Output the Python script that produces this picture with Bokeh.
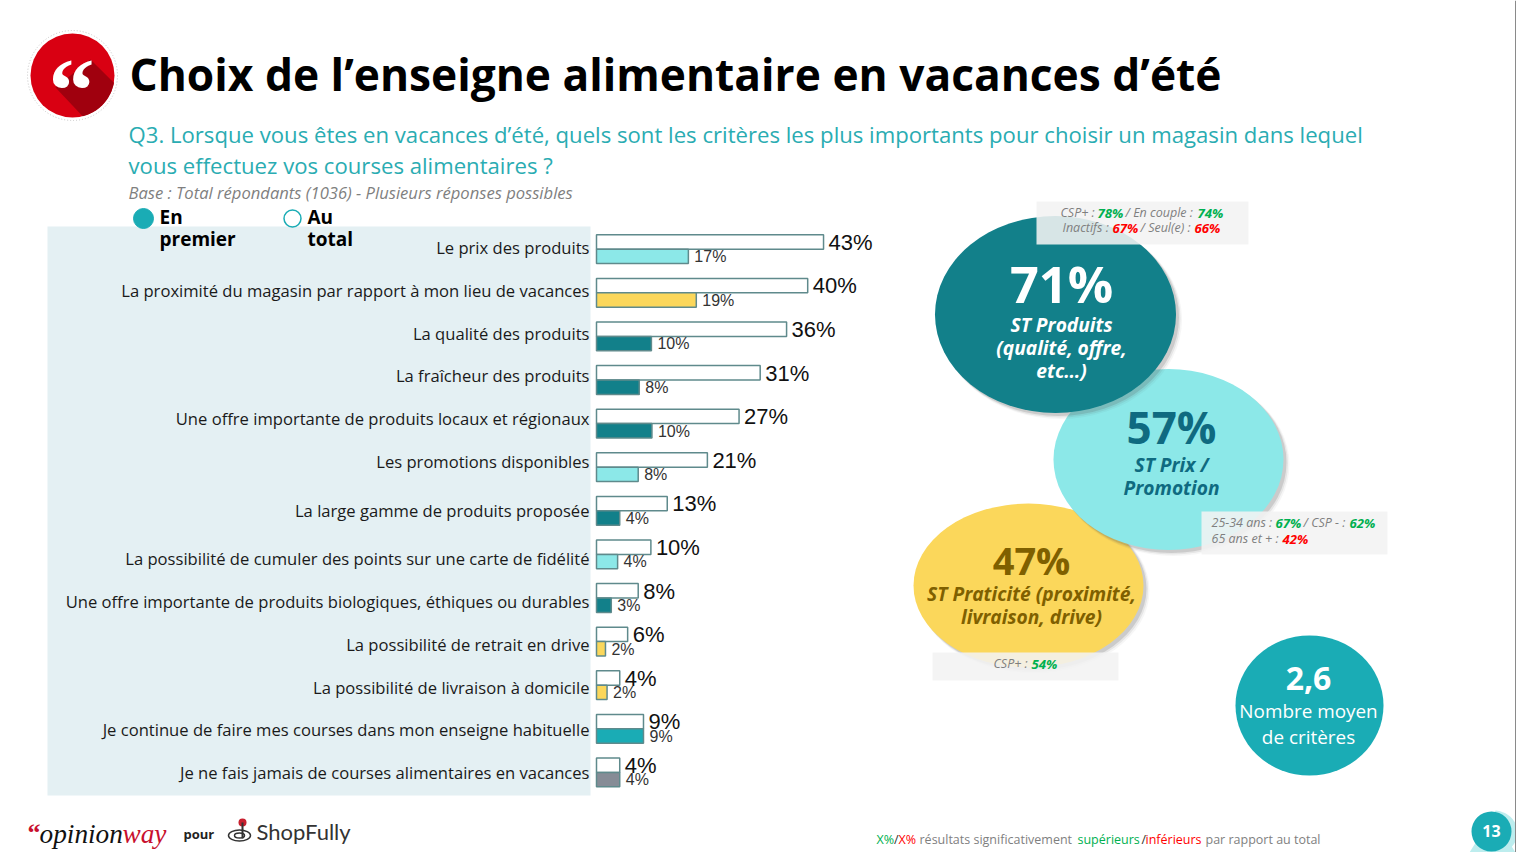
import numpy as np
from bokeh.plotting import figure
from bokeh.models import Range1d
from bokeh.core.properties import value
from bokeh.embed import file_html
from bokeh.resources import INLINE

# ---------- data ----------
categories = [
    "Le prix des produits",
    "La proximité du magasin par rapport à mon lieu de vacances",
    "La qualité des produits",
    "La fraîcheur des produits",
    "Une offre importante de produits locaux et régionaux",
    "Les promotions disponibles",
    "La large gamme de produits proposée",
    "La possibilité de cumuler des points sur une carte de fidélité",
    "Une offre importante de produits biologiques, éthiques ou durables",
    "La possibilité de retrait en drive",
    "La possibilité de livraison à domicile",
    "Je continue de faire mes courses dans mon enseigne habituelle",
    "Je ne fais jamais de courses alimentaires en vacances",
]
au_total = [43, 40, 36, 31, 27, 21, 13.4, 10.3, 7.9, 5.9, 4.4, 8.9, 4.4]
en_premier = [17.4, 18.9, 10.4, 8.1, 10.5, 7.9, 4.4, 4.0, 2.8, 1.7, 2.0, 8.9, 4.4]
au_total_labels = ["43%", "40%", "36%", "31%", "27%", "21%", "13%", "10%", "8%", "6%", "4%", "9%", "4%"]
en_premier_labels = ["17%", "19%", "10%", "8%", "10%", "8%", "4%", "4%", "3%", "2%", "2%", "9%", "4%"]
groups = ["prix", "praticite", "produits", "produits", "produits", "prix", "produits",
          "prix", "produits", "praticite", "praticite", "habitude", "jamais"]

bubble_values = ["71%", "57%", "47%", "2,6"]
TEAL, CYAN, YELLOW, MID, GREY = "#12808A", "#8CE8E8", "#FBD75B", "#1AACB5", "#868C96"
group_colors = {"prix": CYAN, "praticite": YELLOW, "produits": TEAL, "habitude": MID, "jamais": GREY}

# ---------- figure: main scales are page pixels, bars use their own scales ----------
W, H = 1516, 852
p = figure(width=W, height=H, output_backend="svg", toolbar_location=None,
           x_range=Range1d(0, W), y_range=Range1d(H, 0), min_border=0)
p.axis.visible = False
p.grid.visible = False
p.outline_line_color = None
p.background_fill_color = "white"
p.border_fill_color = "white"

PX_PER_PCT = 5.28
X0 = 596.0
ROW0, ROW_STEP = 248.7, 43.6
p.extra_x_ranges["pct"] = Range1d((0 - X0) / PX_PER_PCT, (W - X0) / PX_PER_PCT)
p.extra_y_ranges["row"] = Range1d((H - ROW0) / ROW_STEP, (0 - ROW0) / ROW_STEP)


def txt(x, y, s, size, color="black", font="Open Sans", style="normal", align="left", **kw):
    p.text([x - 1], [y - 1.5], text=[s], text_font=value(font), text_font_size=f"{size}px",
           text_font_style=style, text_color=color, text_align=align,
           text_baseline="middle", **kw)


def runs(x_list, y, parts, colors, styles, size=12.5, font="Open Sans"):
    for x, s, c, st in zip(x_list, parts, colors, styles):
        txt(x, y, s, size + (0.7 if "bold" in st else 0), c, font, st)


# ---------- panel ----------
p.quad(left=47, right=590, top=226, bottom=795, fill_color="#E4F0F3", line_color=None)

# ---------- logo ----------
p.ellipse(72, 75, 90, 90, fill_color=None, line_color="#C8C8C8", line_width=1, line_dash="1 2")
p.ellipse(72, 75, 84, 84, fill_color="#D90012", line_color=None)
a = np.radians(np.linspace(10, 76, 40))
sx = list(72 + 42 * np.cos(a)) + [55, 90]
sy = list(75 + 42 * np.sin(a)) + [87, 59]
p.patch(sx, sy, fill_color="#A0000E", line_color=None)
txt(72, 91, "“", 92, "white", "Liberation Serif", "bold", "center")

# ---------- titles ----------
txt(130, 74.5, "Choix de l’enseigne alimentaire en vacances d’été", 44.3, "black", style="bold")
SUB = "#2AACB2"
txt(129, 135, "Q3. Lorsque vous êtes en vacances d’été, quels sont les critères les plus importants pour choisir un magasin dans lequel", 22.15, SUB)
txt(129, 166, "vous effectuez vos courses alimentaires ?", 22.15, SUB)
txt(129, 193, "Base : Total répondants (1036) - Plusieurs réponses possibles", 16.6, "#7F7F7F", style="italic")

# ---------- legend ----------
p.ellipse(143, 218, 20, 20, fill_color=MID, line_color=MID)
p.ellipse(292, 218, 17, 17, fill_color="white", line_color=MID, line_width=1.5)
txt(160, 218, "En", 19, "black", style="bold")
txt(160, 240, "premier", 19, "black", style="bold")
txt(308, 218, "Au", 19, "black", style="bold")
txt(308, 240, "total", 19, "black", style="bold")

# ---------- bars ----------
rows = list(range(len(categories)))
BAR_H = 0.33
OUTLINE = "#5F8A8C"
p.hbar(y=[r - BAR_H / 2 for r in rows], left=0, right=au_total, height=BAR_H,
       fill_color="white", line_color=OUTLINE, line_width=1.5,
       x_range_name="pct", y_range_name="row")
p.hbar(y=[r + BAR_H / 2 for r in rows], left=0, right=en_premier, height=BAR_H,
       fill_color=[group_colors[g] for g in groups], line_color=OUTLINE, line_width=1.5,
       x_range_name="pct", y_range_name="row")
p.text(au_total, rows, text=au_total_labels, x_offset=5, y_offset=-7,
       text_font=value("Liberation Sans"), text_font_size="22px", text_color="#111111",
       text_baseline="middle", x_range_name="pct", y_range_name="row")
p.text(en_premier, rows, text=en_premier_labels, x_offset=6, y_offset=7.5,
       text_font=value("Liberation Sans"), text_font_size="16px", text_color="#333333",
       text_baseline="middle", x_range_name="pct", y_range_name="row")

label_nudge = [-1.7, -2.3, -2.9, -4.5, -5, -5.7, -0.3, 4.1, 3.5, 3, 2.3, 0.7, 0.1]
p.text([589] * len(rows), rows, text=categories, y_offset=label_nudge,
       text_font=value("Open Sans"), text_font_size="16.6px", text_color="#1A1A1A",
       text_align="right", text_baseline="middle", y_range_name="row")


# ---------- bubbles ----------
def bubble(cx, cy, w, h, color):
    for off, grow, alpha in [(5, 2, 0.05), (4, 1, 0.1), (3, 0, 0.18)]:
        p.ellipse(cx + off, cy + off, w + grow, h + grow, fill_color="#555555",
                  fill_alpha=alpha, line_color=None)
    p.ellipse(cx, cy, w, h, fill_color=color, line_color=None)


bubble(1028, 585, 230, 164, YELLOW)
txt(1032, 560.5, bubble_values[2], 38, "#7F6000", style="bold", align="center")
txt(1032, 594, "ST Praticité (proximité,", 19.2, "#7F6000", style="bold italic", align="center")
txt(1032, 617, "livraison, drive)", 19.2, "#7F6000", style="bold italic", align="center")

bubble(1168, 459, 230, 181, CYAN)
txt(1172, 427.5, bubble_values[1], 44, "#0F6A80", style="bold", align="center")
txt(1172, 465, "ST Prix /", 19.2, "#0F6A80", style="bold italic", align="center")
txt(1172, 488, "Promotion", 19.2, "#0F6A80", style="bold italic", align="center")

bubble(1055, 314, 241, 197, TEAL)
txt(1062, 284, bubble_values[0], 50.5, "white", style="bold", align="center")
txt(1062, 325, "ST Produits", 19.2, "white", style="bold italic", align="center")
txt(1062, 348, "(qualité, offre,", 19.2, "white", style="bold italic", align="center")
txt(1062, 371, "etc…)", 19.2, "white", style="bold italic", align="center")

p.ellipse(1309, 705, 148, 140, fill_color=MID, line_color=None)
txt(1309, 679, bubble_values[3], 32, "white", style="bold", align="center")
txt(1309, 712, "Nombre moyen", 18.9, "white", align="center")
txt(1309, 738, "de critères", 18.9, "white", align="center")

# ---------- notes ----------
NOTE = "#7F7F7F"
GREEN, RED = "#00B050", "#FF0000"
IT, BI = "italic", "bold italic"
for l, r, t, b in [(1036, 1248, 201, 244), (1201, 1387, 511, 554), (932, 1118, 652, 680)]:
    p.quad(left=l, right=r, top=t, bottom=b, fill_color="#F2F2F2", fill_alpha=0.88, line_color=None)
runs([1061, 1098, 1126, 1198], 213.5, ["CSP+ :", "78%", "/ En couple :", "74%"], [NOTE, GREEN, NOTE, GREEN], [IT, BI, IT, BI])
runs([1063, 1113, 1141, 1195], 228.5, ["Inactifs :", "67%", "/ Seul(e) :", "66%"], [NOTE, RED, NOTE, RED], [IT, BI, IT, BI])
runs([1212, 1276, 1304, 1350], 523.5, ["25-34 ans :", "67%", "/ CSP - :", "62%"], [NOTE, GREEN, NOTE, GREEN], [IT, BI, IT, BI])
runs([1212, 1283], 539.5, ["65 ans et + :", "42%"], [NOTE, RED], [IT, BI])
runs([994, 1032], 664.5, ["CSP+ :", "54%"], [NOTE, GREEN], [IT, BI])

# ---------- footer ----------
DARKRED = "#C8102E"
txt(28, 833, "“", 26, DARKRED, "Liberation Serif", "bold")
txt(40, 835, "opinion", 27.3, "#111111", "Liberation Serif", "italic")
txt(123, 835, "way", 27.3, DARKRED, "Liberation Serif", "italic")
txt(184, 835, "pour", 13, "#222222", style="bold")
p.ellipse(242, 822, 8, 8, fill_color="#C8202F", line_color=None)
p.segment(242, 822, 242, 838, line_color="#333333", line_width=2)
p.ellipse(239, 835, 22, 11, fill_color=None, line_color="#333333", line_width=1.5)
p.ellipse(239, 835, 10, 5, fill_color=None, line_color="#333333", line_width=1.5)
txt(257, 832, "ShopFully", 22, "#333333", font="Lato")

FGREY = "#7F7F7F"
runs([877, 894.5, 899, 920, 1078, 1142, 1146, 1206], 840,
     ["X%", "/", "X%", "résultats significativement", "supérieurs", "/", "inférieurs", "par rapport au total"],
     [GREEN, "#333333", RED, FGREY, GREEN, "#333333", RED, FGREY], ["normal"] * 8)

# ---------- page number and page edge ----------
t = np.radians(np.linspace(-85, 40, 30))
p.patch(list(1491 + 24 * np.cos(t) + 2) + [1515, 1469], list(832 + 22 * np.sin(t)) + [852, 852],
        fill_color="#BDEDEE", line_color=None)
p.ellipse(1491, 831, 40, 40, fill_color=MID, line_color=None)
txt(1492, 832, "13", 16, "white", style="bold", align="center")
p.segment(1515, 0, 1515, 852, line_color="#8A8A8A", line_width=1)

open("out.html", "w").write(file_html(p, INLINE))
